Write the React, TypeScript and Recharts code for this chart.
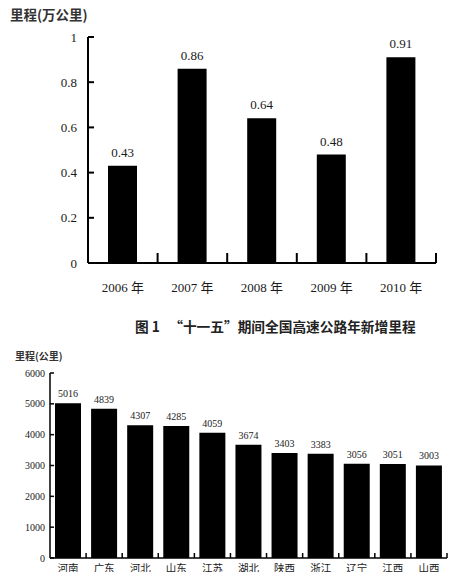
import React from "react";
import { BarChart, Bar, XAxis, YAxis, LabelList } from "recharts";

// 图1：每年新增里程（万公里）
const years = ["2006 年", "2007 年", "2008 年", "2009 年", "2010 年"];
const addedKm = [0.43, 0.86, 0.64, 0.48, 0.91];
const topTicks = [0, 0.2, 0.4, 0.6, 0.8, 1];

// 各省高速公路里程（公里）
const provinces = ["河南", "广东", "河北", "山东", "江苏", "湖北", "陕西", "浙江", "辽宁", "江西", "山西"];
const provinceKm = [5016, 4839, 4307, 4285, 4059, 3674, 3403, 3383, 3056, 3051, 3003];
const bottomTicks = [0, 1000, 2000, 3000, 4000, 5000, 6000];

const serif = "'Liberation Serif', 'Noto Sans CJK SC', serif";
const cjk = "'Noto Sans CJK SC', sans-serif";
const ink = "#1a1a1a";

const topData = years.map((year, i) => ({ year, value: addedKm[i] }));
const bottomData = provinces.map((name, i) => ({ name, value: provinceKm[i] }));

// y tick: short mark pointing into the plot, label to the left
const makeYTick = (len: number, gap: number, fontSize: number, sw: number) => (props: any) => {
  const { x, y, payload } = props;
  return (
    <g>
      <line x1={x} x2={x + len} y1={y} y2={y} stroke="#000" strokeWidth={sw} />
      <text
        x={x - gap}
        y={y}
        dy="0.35em"
        textAnchor="end"
        fontSize={fontSize}
        fontFamily={serif}
        fill={ink}
      >
        {payload.value}
      </text>
    </g>
  );
};

// category label plus a tick mark on the right edge of its band, pointing up
const makeCatTick =
  (baseline: number, fontSize: number, family: string, tickLen: number, sw: number, band: number) =>
  (props: any) => {
    const { x, y, payload } = props;
    const edge = x + band / 2;
    return (
      <g>
        <line x1={edge} x2={edge} y1={y} y2={y - tickLen} stroke="#000" strokeWidth={sw} />
        <text x={x} y={y + baseline} textAnchor="middle" fontSize={fontSize} fontFamily={family} fill={ink}>
          {payload.value}
        </text>
      </g>
    );
  };

const App: React.FC = () => {
  return (
    <div
      style={{
        position: "relative",
        width: 469,
        height: 580,
        margin: -8,
        background: "#fff",
        overflow: "hidden",
      }}
    >
      <div
        style={{
          position: "absolute",
          left: 10,
          top: 4,
          fontFamily: cjk,
          fontSize: 13.5,
          fontWeight: 700,
          color: "#333",
        }}
      >
        里程(万公里)
      </div>

      <div style={{ position: "absolute", left: 0, top: 0 }}>
        <BarChart
          width={469}
          height={300}
          data={topData}
          margin={{ top: 37, right: 33, left: 28, bottom: 7 }}
        >
          <XAxis
            dataKey="year"
            height={30}
            tickLine={false}
            tickSize={0}
            tickMargin={0}
            axisLine={{ stroke: "#000", strokeWidth: 2 }}
            tick={makeCatTick(29, 13, serif, 10, 2, 348 / years.length)}
          />
          <YAxis
            type="number"
            domain={[0, 1]}
            ticks={topTicks}
            width={60}
            tickSize={0}
            tickMargin={0}
            tickLine={false}
            axisLine={{ stroke: "#000", strokeWidth: 2 }}
            tick={makeYTick(6, 11, 13, 2)}
          />
          <Bar dataKey="value" fill="#000" barSize={29} isAnimationActive={false}>
            <LabelList
              dataKey="value"
              position="top"
              offset={9}
              style={{ fontSize: 13, fontFamily: serif, fill: ink }}
            />
          </Bar>
        </BarChart>
      </div>

      <div
        style={{
          position: "absolute",
          left: 135,
          top: 316,
          fontFamily: cjk,
          fontSize: 13.7,
          fontWeight: 600,
          color: "#222",
          whiteSpace: "nowrap",
        }}
      >
        图 1&nbsp;&nbsp;&nbsp;“十一五”期间全国高速公路年新增里程
      </div>

      <div
        style={{
          position: "absolute",
          left: 15,
          top: 348,
          fontFamily: cjk,
          fontSize: 10,
          fontWeight: 700,
          color: "#333",
        }}
      >
        里程(公里)
      </div>

      <div style={{ position: "absolute", left: 0, top: 340 }}>
        <BarChart
          width={469}
          height={240}
          data={bottomData}
          margin={{ top: 33, right: 22, left: 10, bottom: 2 }}
        >
          <XAxis
            dataKey="name"
            height={20}
            interval={0}
            tickLine={false}
            tickSize={0}
            tickMargin={0}
            axisLine={{ stroke: "#000", strokeWidth: 1.5 }}
            tick={makeCatTick(14, 10.5, cjk, 5, 1.5, 397 / provinces.length)}
          />
          <YAxis
            type="number"
            domain={[0, 6000]}
            ticks={bottomTicks}
            width={40}
            tickSize={0}
            tickMargin={0}
            tickLine={false}
            axisLine={{ stroke: "#000", strokeWidth: 1.5 }}
            tick={makeYTick(4, 5, 10, 1.5)}
          />
          <Bar dataKey="value" fill="#000" barSize={26} isAnimationActive={false}>
            <LabelList
              dataKey="value"
              position="top"
              offset={6}
              style={{ fontSize: 10, fontFamily: serif, fill: ink }}
            />
          </Bar>
        </BarChart>
      </div>
    </div>
  );
};

export default App;
